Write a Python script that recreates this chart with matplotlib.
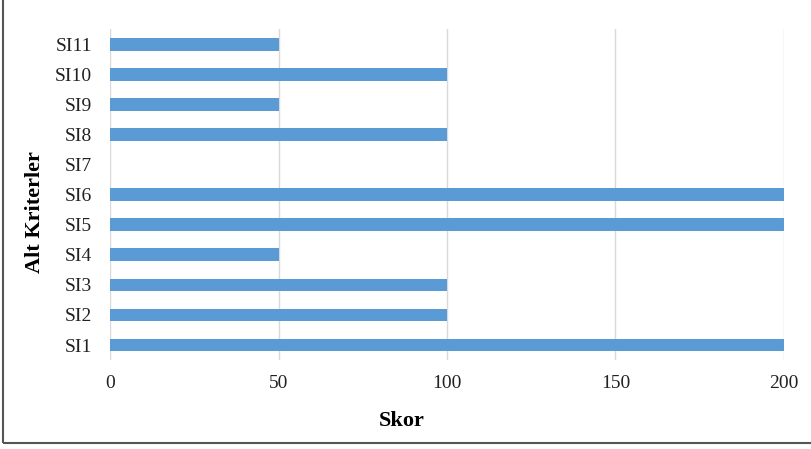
import matplotlib.pyplot as plt
from matplotlib.patches import Rectangle

# alt kriter skorlari
kriterler = ['SI1', 'SI2', 'SI3', 'SI4', 'SI5', 'SI6', 'SI7', 'SI8', 'SI9', 'SI10', 'SI11']
skorlar = [200, 100, 100, 50, 200, 200, 0, 100, 50, 100, 50]

plt.rcParams['font.family'] = ['Liberation Serif', 'DejaVu Serif']

fig = plt.figure(figsize=(8.12, 4.49), dpi=100)
ax = fig.add_axes([0.1355, 0.198, 0.83, 0.737])

ax.barh(range(len(kriterler)), skorlar, height=0.42, color='#5B9BD5', zorder=3)

ax.set_xlim(0, 200)
ax.set_ylim(-0.5, len(kriterler) - 0.5)
ax.set_xticks([0, 50, 100, 150, 200])
ax.set_yticks(range(len(kriterler)))
ax.set_yticklabels(kriterler)
ax.tick_params(axis='both', length=0, labelsize=14, colors='#222222')
ax.tick_params(axis='x', pad=11)
ax.tick_params(axis='y', pad=13)
ax.grid(axis='x', color='#D9D9D9', linewidth=1, zorder=0)
for s in ax.spines.values():
    s.set_visible(False)

ax.set_xlabel('Skor', fontsize=16, fontweight='bold')
ax.set_ylabel('Alt Kriterler', fontsize=16, fontweight='bold')
ax.xaxis.set_label_coords(292 / 674, -51 / 331)
ax.yaxis.set_label_coords(-65 / 674, 148 / 331)

# cerceve
fig.patches.append(Rectangle((3 / 812, 6 / 449), 1.2, 1.0, transform=fig.transFigure,
                             fill=False, edgecolor='#555555', linewidth=1.5))

fig.savefig('out.png', dpi=100)
